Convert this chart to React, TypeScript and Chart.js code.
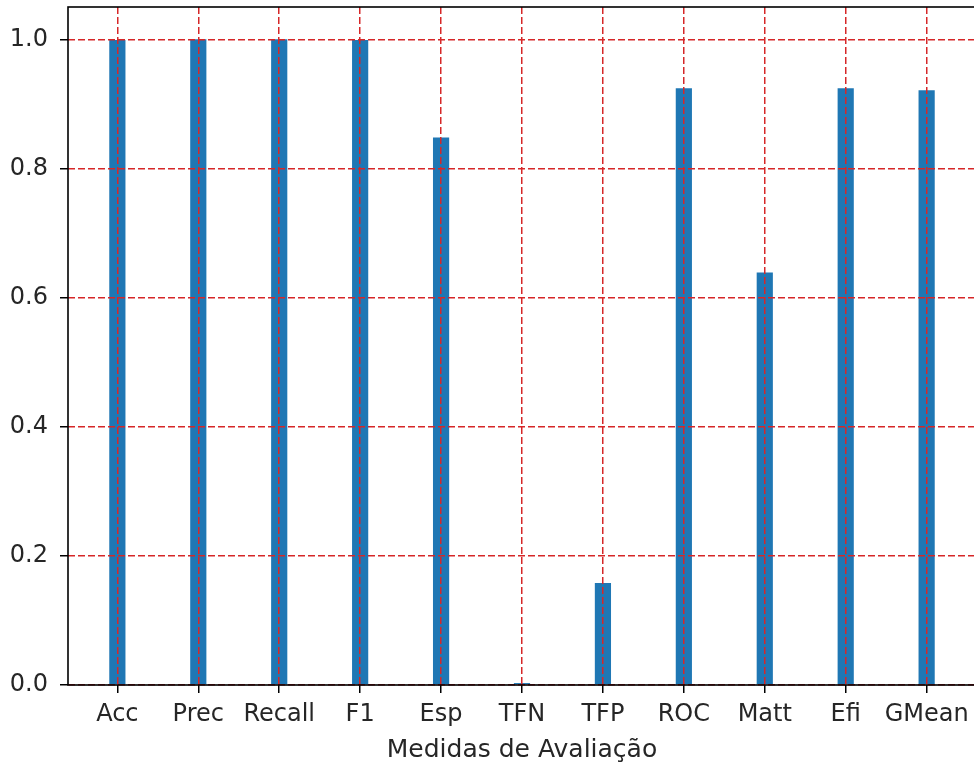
import React, { useEffect, useRef } from "react";
import { Chart, registerables } from "chart.js";

Chart.register(...registerables);

const categories = ["Acc", "Prec", "Recall", "F1", "Esp", "TFN", "TFP", "ROC", "Matt", "Efi", "GMean"];
const values = [0.999, 1.0, 1.0, 0.999, 0.848, 0.003, 0.158, 0.924, 0.639, 0.924, 0.921];
const yTicks = [0, 0.2, 0.4, 0.6, 0.8, 1.0];
const xLabel = "Medidas de Avaliação";

const FONT = "'DejaVu Sans', sans-serif";

const spinesPlugin = {
  id: "spines",
  afterDraw(chart: any) {
    const { ctx, chartArea } = chart;
    ctx.save();
    ctx.strokeStyle = "#000";
    ctx.lineWidth = 1.6;
    ctx.strokeRect(chartArea.left, chartArea.top, chartArea.right - chartArea.left, chartArea.bottom - chartArea.top);
    ctx.restore();
  },
};

export default function App() {
  const ref = useRef<HTMLCanvasElement | null>(null);

  useEffect(() => {
    if (!ref.current) return;
    const chart = new Chart(ref.current, {
      type: "bar",
      data: {
        datasets: [
          {
            data: values.map((v, i) => ({ x: i, y: v })),
            backgroundColor: "#1f77b4",
            borderWidth: 0,
            barPercentage: 0.2,
            categoryPercentage: 1.0,
          },
        ],
      },
      options: {
        animation: false,
        responsive: false,
        layout: { padding: { top: 7, left: 0, right: 4, bottom: 0 } },
        plugins: { legend: { display: false }, tooltip: { enabled: false } },
        scales: {
          x: {
            type: "linear",
            min: -0.61,
            max: 10.61,
            offset: false,
            z: 1,
            afterBuildTicks: (s: any) => {
              s.ticks = categories.map((_, i) => ({ value: i }));
            },
            afterFit: (s: any) => {
              s.height = 80;
              s.paddingLeft = 0;
              s.paddingRight = 0;
            },
            ticks: {
              autoSkip: false,
              maxRotation: 0,
              minRotation: 0,
              padding: 7,
              color: "#262626",
              font: { family: FONT, size: 24 },
              callback: (v: any) => categories[Math.round(Number(v))],
            },
            grid: {
              offset: false,
              z: 1,
              color: "#d62728",
              lineWidth: 1.5,
              tickColor: "#000",
              tickLength: 8,
              tickWidth: 1.5,
            },
            border: { display: false, dash: [7, 3] },
            title: {
              display: true,
              text: xLabel,
              color: "#262626",
              font: { family: FONT, size: 25 },
              padding: { top: 0, bottom: 0 },
            },
          },
          y: {
            type: "linear",
            min: 0,
            max: 1.05,
            z: 1,
            afterBuildTicks: (s: any) => {
              s.ticks = yTicks.map((v) => ({ value: v }));
            },
            afterFit: (s: any) => {
              s.width = 68;
              s.paddingTop = 0;
              s.paddingBottom = 0;
            },
            ticks: {
              padding: 12,
              color: "#262626",
              font: { family: FONT, size: 24 },
              callback: (v: any) => Number(v).toFixed(1),
            },
            grid: {
              z: 1,
              color: "#d62728",
              lineWidth: 1.5,
              tickColor: "#000",
              tickLength: 8,
              tickWidth: 1.5,
            },
            border: { display: false, dash: [7, 3] },
          },
        },
      },
      plugins: [spinesPlugin],
    } as any);
    return () => chart.destroy();
  }, []);

  return (
    <div style={{ position: "absolute", left: 0, top: 0, width: 974, height: 765, overflow: "hidden", background: "#fff" }}>
      <canvas ref={ref} width={980} height={765} style={{ width: 980, height: 765, display: "block" }} />
    </div>
  );
}
